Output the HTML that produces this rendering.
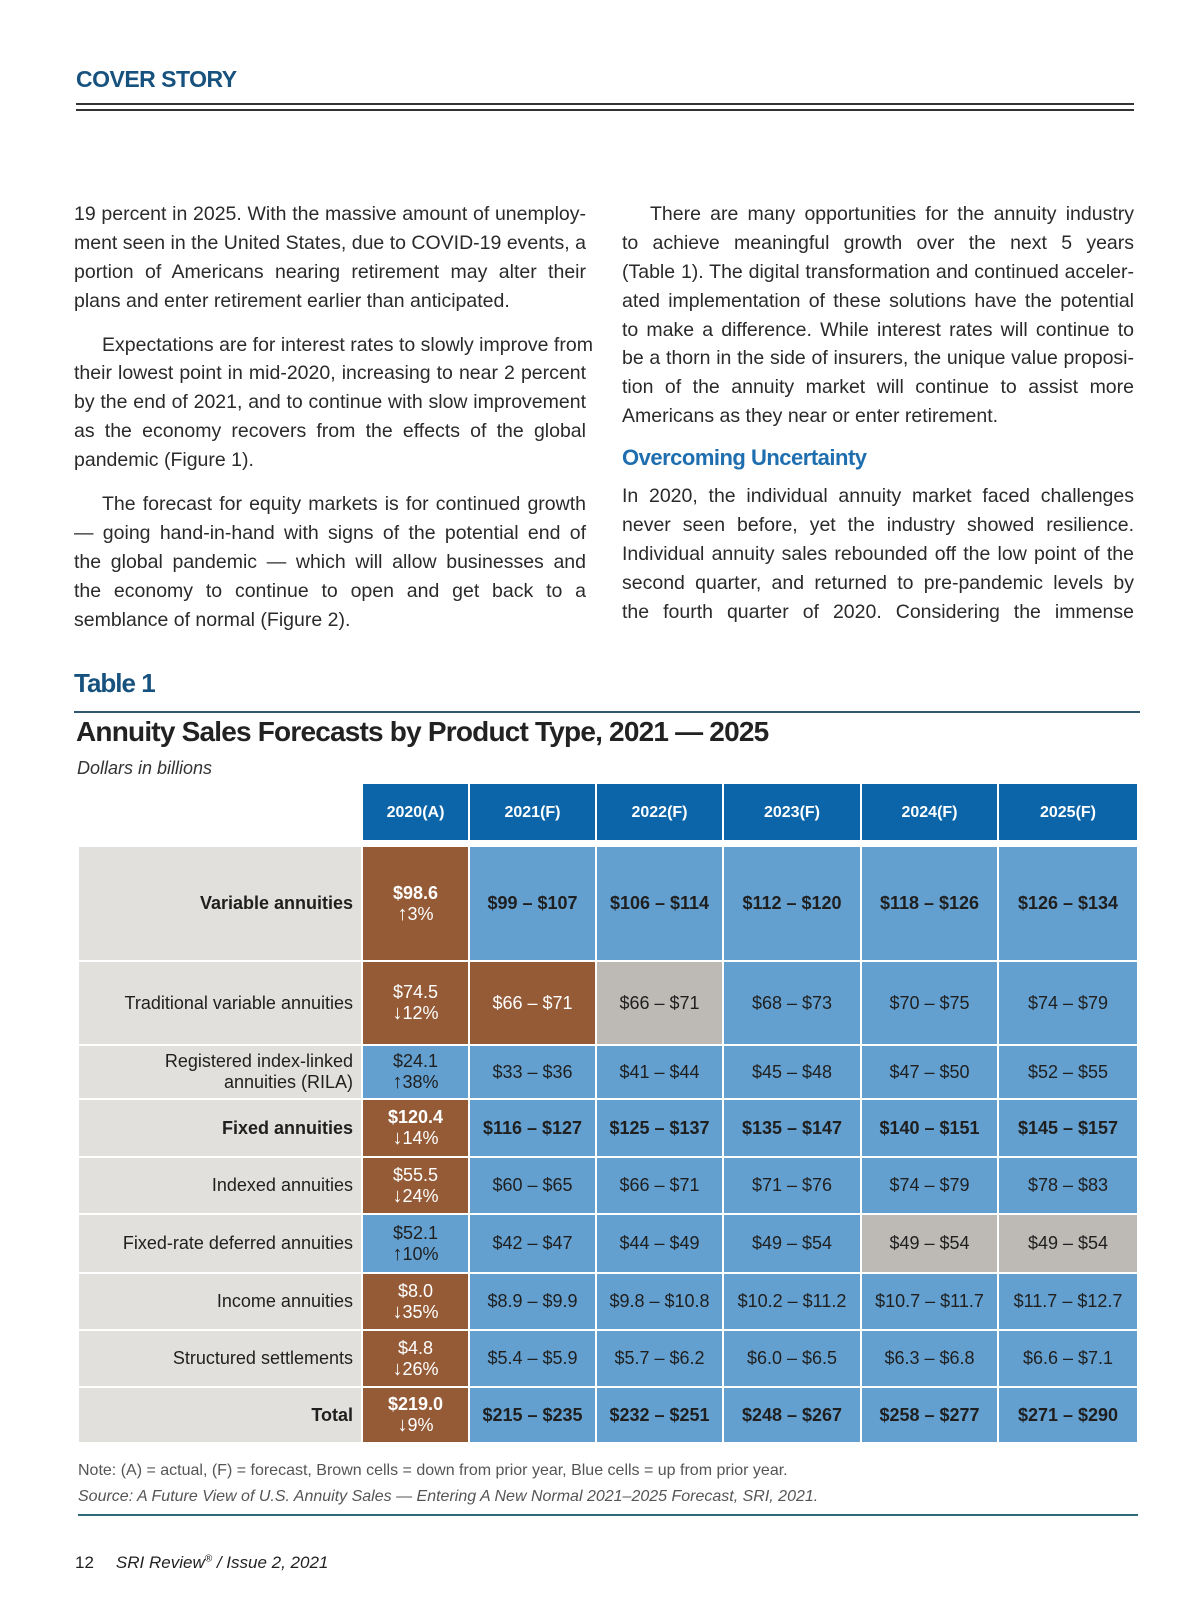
<!DOCTYPE html>
<html><head><meta charset="utf-8">
<style>
*{margin:0;padding:0;box-sizing:border-box}
body{width:1200px;height:1606px;background:#fff;position:relative;font-family:"Liberation Sans",sans-serif;color:#222;overflow:hidden}
.abs{position:absolute}
.col{position:absolute;font-size:19.5px;line-height:28.9px;color:#2a2a2a}
.col div{text-align:justify;text-align-last:justify;white-space:nowrap;height:28.9px}
.col div.l{text-align-last:left}
.col div.ind{text-indent:28px}
.gap{height:15px!important}
#tbl div.cell{position:absolute;display:flex;flex-direction:column;align-items:center;justify-content:center;text-align:center;font-family:"Liberation Sans Narrow","Liberation Sans",sans-serif;font-size:18px;line-height:21px;color:#1f1f1f}
#tbl div.lab{align-items:flex-end;padding-right:8px;text-align:right}
#tbl span.pct{font-weight:normal}
#tbl span.arr{font-size:20px}
</style></head><body>
<div class="abs" style="left:76px;top:66px;font-size:23px;font-weight:bold;color:#17527f;letter-spacing:-0.5px">COVER STORY</div>
<div class="abs" style="left:76px;top:103px;width:1058px;height:2px;background:#333"></div>
<div class="abs" style="left:76px;top:109px;width:1058px;height:2px;background:#333"></div>

<div class="col" style="left:74px;top:200px;width:512px">
<div>19 percent in 2025. With the massive amount of unemploy-</div>
<div>ment seen in the United States, due to COVID-19 events, a</div>
<div>portion of Americans nearing retirement may alter their</div>
<div class="l">plans and enter retirement earlier than anticipated.</div>
<div class="gap"></div>
<div class="ind">Expectations are for interest rates to slowly improve from</div>
<div>their lowest point in mid-2020, increasing to near 2 percent</div>
<div>by the end of 2021, and to continue with slow improvement</div>
<div>as the economy recovers from the effects of the global</div>
<div class="l">pandemic (Figure 1).</div>
<div class="gap"></div>
<div class="ind">The forecast for equity markets is for continued growth</div>
<div>— going hand-in-hand with signs of the potential end of</div>
<div>the global pandemic — which will allow businesses and</div>
<div>the economy to continue to open and get back to a</div>
<div class="l">semblance of normal (Figure 2).</div>
</div>

<div class="col" style="left:622px;top:200px;width:512px">
<div class="ind">There are many opportunities for the annuity industry</div>
<div>to achieve meaningful growth over the next 5 years</div>
<div>(Table 1). The digital transformation and continued acceler-</div>
<div>ated implementation of these solutions have the potential</div>
<div>to make a difference. While interest rates will continue to</div>
<div>be a thorn in the side of insurers, the unique value proposi-</div>
<div>tion of the annuity market will continue to assist more</div>
<div class="l">Americans as they near or enter retirement.</div>
</div>
<div class="abs" style="left:622px;top:445px;font-size:22px;font-weight:bold;color:#1f6fb0;letter-spacing:-0.5px">Overcoming Uncertainty</div>
<div class="col" style="left:622px;top:482px;width:512px">
<div>In 2020, the individual annuity market faced challenges</div>
<div>never seen before, yet the industry showed resilience.</div>
<div>Individual annuity sales rebounded off the low point of the</div>
<div>second quarter, and returned to pre-pandemic levels by</div>
<div>the fourth quarter of 2020. Considering the immense</div>
</div>

<div class="abs" style="left:74px;top:668px;font-size:26px;font-weight:bold;color:#17527f;letter-spacing:-1px">Table 1</div>
<div class="abs" style="left:74px;top:711px;width:1066px;height:2px;background:#2f5670"></div>
<div class="abs" style="left:76px;top:716px;font-size:28px;font-weight:bold;color:#222;letter-spacing:-0.8px">Annuity Sales Forecasts by Product Type, 2021 — 2025</div>
<div class="abs" style="left:77px;top:758px;font-size:18px;font-style:italic;color:#333">Dollars in billions</div>

<div id="tbl"></div>

<div class="abs" style="left:78px;top:1462px;font-size:16px;color:#555">Note: (A) = actual, (F) = forecast, Brown cells = down from prior year, Blue cells = up from prior year.</div>
<div class="abs" style="left:78px;top:1488px;font-size:16px;font-style:italic;color:#555">Source: A Future View of U.S. Annuity Sales — Entering A New Normal 2021–2025 Forecast, SRI, 2021.</div>
<div class="abs" style="left:78px;top:1514px;width:1060px;height:2px;background:#2f6a7a"></div>
<div class="abs" style="left:75px;top:1553px;font-size:17px;color:#222"><span>12</span><span style="margin-left:22px;font-style:italic">SRI Review<sup style="font-size:10px">®</sup> / Issue 2, 2021</span></div>

<script>
const years = ["2020(A)","2021(F)","2022(F)","2023(F)","2024(F)","2025(F)"];
const rowLabels = ["Variable annuities","Traditional variable annuities","Registered index-linked<br>annuities (RILA)","Fixed annuities","Indexed annuities","Fixed-rate deferred annuities","Income annuities","Structured settlements","Total"];
const actuals = ["$98.6","$74.5","$24.1","$120.4","$55.5","$52.1","$8.0","$4.8","$219.0"];
const changeArrows = ["↑","↓","↑","↓","↓","↑","↓","↓","↓"];
const changePcts = ["3%","12%","38%","14%","24%","10%","35%","26%","9%"];
const forecasts = [
 ["$99 – $107","$106 – $114","$112 – $120","$118 – $126","$126 – $134"],
 ["$66 – $71","$66 – $71","$68 – $73","$70 – $75","$74 – $79"],
 ["$33 – $36","$41 – $44","$45 – $48","$47 – $50","$52 – $55"],
 ["$116 – $127","$125 – $137","$135 – $147","$140 – $151","$145 – $157"],
 ["$60 – $65","$66 – $71","$71 – $76","$74 – $79","$78 – $83"],
 ["$42 – $47","$44 – $49","$49 – $54","$49 – $54","$49 – $54"],
 ["$8.9 – $9.9","$9.8 – $10.8","$10.2 – $11.2","$10.7 – $11.7","$11.7 – $12.7"],
 ["$5.4 – $5.9","$5.7 – $6.2","$6.0 – $6.5","$6.3 – $6.8","$6.6 – $7.1"],
 ["$215 – $235","$232 – $251","$248 – $267","$258 – $277","$271 – $290"]];
const status = [
 ["d","u","u","u","u","u"],["d","d","f","u","u","u"],["u","u","u","u","u","u"],
 ["d","u","u","u","u","u"],["d","u","u","u","u","u"],["u","u","u","u","f","f"],
 ["d","u","u","u","u","u"],["d","u","u","u","u","u"],["d","u","u","u","u","u"]];
const boldRows = [true,false,false,true,false,false,false,false,true];

const colX=[79,362,469,596,723,861,998,1138];
const rowY=[784,846,961,1045,1099,1157,1214,1273,1330,1387,1443];
const colors={d:"#955b37",u:"#63a0d0",f:"#bdbab5"};
const tbl=document.getElementById('tbl');
function cell(x,y,w,h,bg,html,cls){
  const el=document.createElement('div');
  el.className='cell'+(cls?' '+cls:'');
  el.style.left=x+'px';el.style.top=y+'px';el.style.width=w+'px';el.style.height=h+'px';el.style.background=bg;
  el.innerHTML=html;tbl.appendChild(el);return el;
}
years.forEach((yr,j)=>{
  const el=cell(colX[j+1]+1,rowY[0],colX[j+2]-colX[j+1]-2,rowY[1]-rowY[0]-6,"#0b65a8",yr);
  el.style.color='#fff';el.style.fontWeight='bold';el.style.fontSize='16px';
  
  
});
rowLabels.forEach((lab,i)=>{
  const y=rowY[i+1]+1,h=rowY[i+2]-rowY[i+1]-2;
  const l=cell(colX[0],y,colX[1]-colX[0]-1,h,"#e1e0dc",lab,'lab');
  if(boldRows[i])l.style.fontWeight='bold';
  
  
  for(let j=0;j<6;j++){
    const txt=j===0?'<span>'+actuals[i]+'</span><span class="pct"><span class="arr">'+changeArrows[i]+'</span>'+changePcts[i]+'</span>':forecasts[i][j-1];
    const c=cell(colX[j+1]+1,y,colX[j+2]-colX[j+1]-2,h,colors[status[i][j]],txt);
    if(boldRows[i])c.style.fontWeight='bold';
    if(status[i][j]==='d')c.style.color='#fff';
    
    
  }
});
</script>
</body></html>
